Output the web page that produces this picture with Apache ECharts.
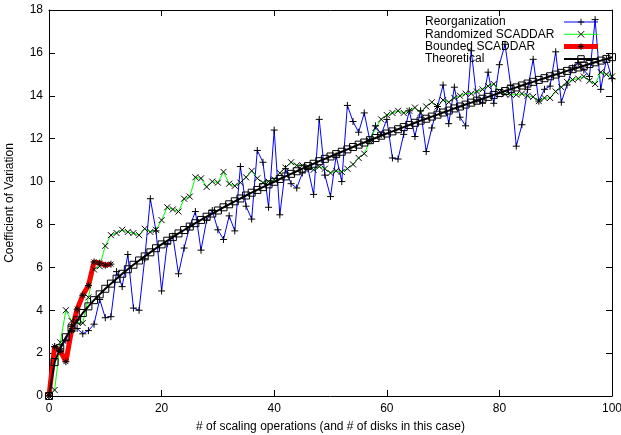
<!DOCTYPE html>
<html><head><meta charset="utf-8">
<script src="https://cdn.jsdelivr.net/npm/echarts@6/dist/echarts.min.js"></script>
<style>html,body{margin:0;padding:0;background:#fff}#c{width:621px;height:435px}</style>
</head><body><div id="c"></div>
<script>
// x = number of scaling operations (index of each value, 0..100)
const reorganization = [
  0, 2.3, 2.2, 2.6, 3.25, 3.15, 2.9, 3.05, 3.35, 4.5,
  3.65, 3.7, 5.8, 5.1, 6.6, 4.1, 4.0, 6.4, 9.2, 7.7,
  4.9, 7.1, 7.45, 5.7, 6.9, 7.9, 8.6, 6.8, 8.2, 8.65,
  7.75, 7.3, 8.4, 7.7, 10.7, 8.85, 8.25, 11.45, 10.9, 8.8,
  12.4, 8.45, 10.6, 9.9, 9.7, 10.4, 10.6, 9.4, 12.9, 10.3,
  9.3, 11.2, 10.0, 13.55, 12.8, 12.3, 13.2, 11.9, 12.6, 12.2,
  12.9, 11.1, 11.05, 12.2, 13.3, 12.1, 13.3, 11.4, 12.5, 13.5,
  14.5, 12.7, 14.4, 13.0, 12.6, 16.1, 13.8, 13.65, 15.1, 13.65,
  15.45, 16.4, 14.5, 11.65, 12.65, 14.3, 15.7, 13.75, 14.3, 14.45,
  16.05, 13.7, 14.5, 15.3, 15.55, 15.2, 14.9, 17.55, 14.3, 15.7,
  14.8
];
const randomized = [
  0, 0.28, 2.5, 4.0, 3.5, 3.45, 3.4, 4.6, 5.9, 6.05,
  7.0, 7.5, 7.6, 7.75, 7.65, 7.6, 7.5, 7.8, 7.65, 7.75,
  8.2, 8.8, 8.7, 8.6, 9.2, 9.3, 10.2, 10.15, 9.75, 10.0,
  9.95, 10.45, 9.9, 9.8, 9.95, 10.2, 10.5, 10.15, 9.95, 10.0,
  10.1, 10.4, 10.65, 10.9, 10.75, 10.75, 10.7, 10.55, 10.7, 10.6,
  10.4, 10.5, 10.45, 10.6, 10.8, 11.1, 11.3, 11.9, 12.5, 12.9,
  13.1, 13.2, 13.3, 13.2, 13.3, 13.45, 13.2, 13.5, 13.7, 13.5,
  13.8, 13.7, 13.9, 14.0, 14.1, 14.1, 14.2, 14.3, 14.45, 14.55,
  14.2, 14.07, 14.05, 14.05, 14.1, 14.0, 13.95, 13.75, 13.9, 13.9,
  14.2, 14.4, 14.65, 14.75, 14.8, 14.9, 14.7, 14.55, 15.1, 15.0,
  14.9
];
const bounded = [0, 2.3, 2.1, 1.6, 3.05, 4.05, 4.7, 5.15, 6.25, 6.2, 6.1, 6.15];
const theoretical = [
  0, 1.58, 2.23, 2.74, 3.16, 3.53, 3.87, 4.18, 4.47, 4.74,
  5.00, 5.24, 5.47, 5.70, 5.91, 6.12, 6.32, 6.51, 6.70, 6.89,
  7.07, 7.24, 7.41, 7.58, 7.74, 7.90, 8.06, 8.21, 8.36, 8.51,
  8.65, 8.80, 8.94, 9.08, 9.21, 9.35, 9.48, 9.61, 9.74, 9.87,
  9.99, 10.12, 10.24, 10.36, 10.48, 10.60, 10.72, 10.83, 10.95, 11.06,
  11.17, 11.28, 11.39, 11.50, 11.61, 11.72, 11.82, 11.93, 12.03, 12.14,
  12.24, 12.34, 12.44, 12.54, 12.64, 12.74, 12.84, 12.93, 13.03, 13.12,
  13.22, 13.31, 13.41, 13.50, 13.59, 13.68, 13.77, 13.86, 13.95, 14.04,
  14.13, 14.22, 14.31, 14.39, 14.48, 14.57, 14.65, 14.74, 14.82, 14.91,
  14.99, 15.07, 15.16, 15.24, 15.32, 15.40, 15.48, 15.56, 15.64, 15.72,
  15.80
];
const seriesNames = ['Reorganization', 'Randomized SCADDAR', 'Bounded SCADDAR', 'Theoretical'];
const xTicks = {min: 0, max: 100, interval: 20};
const yTicks = {min: 0, max: 18, interval: 2};
const xTitle = '# of scaling operations (and # of disks in this case)';
const yTitle = 'Coefficient of Variation';

const FONT = "'Liberation Sans', Arial, sans-serif";
const PLUS = 'path://M5,0L5,10M0,5L10,5';
const CROSS = 'path://M0,0L10,10M10,0L0,10';
const STAR = 'path://M5,0L5,10M0,5L10,5M1.5,1.5L8.5,8.5M8.5,1.5L1.5,8.5';
const pairs = arr => arr.map((v, i) => [i, v]);

const lineColors = ['#0000ff', '#00ff00', '#ff0000', '#000000'];
const lineWidths = [1, 1, 5, 2];
const symbols = [PLUS, CROSS, STAR, 'rect'];
const symbolSizes = [7, 6, 7, 7];

const axisCommon = {
  axisLine: {show: true, onZero: false, lineStyle: {color: '#000', width: 1}},
  axisTick: {show: true, inside: true, length: 6, lineStyle: {color: '#000', width: 1}},
  splitLine: {show: false}
};
const markerStyle = {color: 'transparent', borderColor: '#000', borderWidth: 1};

const allData = [reorganization, randomized, bounded, theoretical];

const chart = echarts.init(document.getElementById('c'), null, {renderer: 'canvas'});
chart.setOption({
  animation: false,
  backgroundColor: '#fff',
  grid: {left: 49, right: 9, top: 10, bottom: 39, containLabel: false, outerBoundsMode: 'none'},
  legend: {
    orient: 'vertical', left: 425, top: 16, padding: 0, itemGap: 0.3,
    align: 'right', itemWidth: 34, itemHeight: 8,
    data: seriesNames.map((n, i) => ({
      name: n,
      lineStyle: {color: lineColors[i], width: lineWidths[i]},
      itemStyle: {color: 'transparent', borderColor: '#000', borderWidth: 1}
    })),
    formatter: n => '{a|' + n + '}',
    textStyle: {color: '#000', fontFamily: FONT, fontSize: 12,
      rich: {a: {width: 134, align: 'left', fontSize: 12, lineHeight: 12, fontFamily: FONT, color: '#000'}}},
    selectedMode: false
  },
  xAxis: [
    Object.assign({type: 'value', position: 'bottom', min: xTicks.min, max: xTicks.max, interval: xTicks.interval,
      axisLabel: {color: '#000', fontSize: 12, fontFamily: FONT, margin: 7},
      name: xTitle, nameLocation: 'middle', nameGap: 25,
      nameTextStyle: {color: '#000', fontSize: 12, fontFamily: FONT}}, axisCommon),
    Object.assign({type: 'value', position: 'top', min: xTicks.min, max: xTicks.max, interval: xTicks.interval,
      axisLabel: {show: false}}, axisCommon)
  ],
  yAxis: [
    Object.assign({type: 'value', position: 'left', min: yTicks.min, max: yTicks.max, interval: yTicks.interval,
      axisLabel: {color: '#000', fontSize: 12, fontFamily: FONT, margin: 6},
      name: yTitle, nameLocation: 'middle', nameGap: 33, nameRotate: 90,
      nameTextStyle: {color: '#000', fontSize: 12, fontFamily: FONT}}, axisCommon),
    Object.assign({type: 'value', position: 'right', min: yTicks.min, max: yTicks.max, interval: yTicks.interval,
      axisLabel: {show: false}}, axisCommon)
  ],
  series: seriesNames.map((n, i) => ({
    name: n, type: 'line', data: pairs(allData[i]),
    symbol: symbols[i], symbolSize: symbolSizes[i],
    lineStyle: {color: lineColors[i], width: lineWidths[i]},
    itemStyle: markerStyle, emphasis: {disabled: true}
  }))
});
</script></body></html>
